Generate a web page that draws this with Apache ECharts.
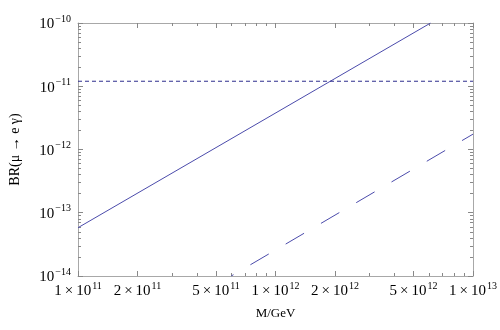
<!DOCTYPE html>
<html><head><meta charset="utf-8">
<script src="https://cdn.jsdelivr.net/npm/echarts@6/dist/echarts.min.js"></script>
<style>html,body{margin:0;padding:0;background:#fff}#c{width:500px;height:330px}</style>
</head><body><div id="c"></div>
<script>
// Data (log-log straight lines)
var solidX = [1e11, 6.1e12];
var solidY = [5.8e-14, 1e-10];
var boundX = [1e11, 1e13];
var boundY = [1.2e-11, 1.2e-11];
var longDashX = [5.97e11, 1e13];
var longDashY = [1e-14, 1.75e-12];
// Tick values
var xMajor = [1e11, 2e11, 5e11, 1e12, 2e12, 5e12, 1e13];
var xMinor = [3e11, 4e11, 6e11, 7e11, 8e11, 9e11, 3e12, 4e12, 6e12, 7e12, 8e12, 9e12];
var yMajor = [1e-14, 1e-13, 1e-12, 1e-11, 1e-10];
var yMinor = [2e-14,3e-14,4e-14,5e-14,6e-14,7e-14,8e-14,9e-14,
              2e-13,3e-13,4e-13,5e-13,6e-13,7e-13,8e-13,9e-13,
              2e-12,3e-12,4e-12,5e-12,6e-12,7e-12,8e-12,9e-12,
              2e-11,3e-11,4e-11,5e-11,6e-11,7e-11,8e-11,9e-11];

function pairs(xs, ys){ return xs.map(function(x,i){ return [x, ys[i]]; }); }
function expOf(v){ return Math.round(Math.log10(v)); }
function xFmt(v){
  var e = Math.floor(Math.log10(v) + 1e-9);
  var m = Math.round(v / Math.pow(10, e));
  return '{b|' + m + '\u2009×\u200910}{s|' + e + '}';
}
function yFmt(v){
  var e = expOf(v);
  return '{b|10}{s|' + (e < 0 ? '\u2212' + (-e) : e) + '}';
}
var serif = 'Liberation Serif';
var rich = {
  b: {fontFamily: serif, fontSize: 15, color: '#000', lineHeight: 18, verticalAlign: 'bottom'},
  s: {fontFamily: serif, fontSize: 10, color: '#000', lineHeight: 18, verticalAlign: 'top', padding:[0,0,0,1]}
};
var frame = '#a8a8a8';
var tickCol = '#888';
function xAx(pos, tickVals, len, labels, line, name){
  return {
    type: 'log', logBase: 10, min: 1e11, max: 1e13, position: pos,
    name: name || '', nameLocation: 'middle', nameGap: 31,
    nameTextStyle: {fontFamily: serif, fontSize: 13, color: '#000'},
    splitLine: {show: false}, minorTick: {show: false},
    axisLine: {show: line, lineStyle: {color: frame, width: 1}},
    axisTick: {show: true, inside: true, length: len, customValues: tickVals, lineStyle: {color: tickCol}},
    axisLabel: labels ? {show: true, customValues: tickVals, formatter: xFmt, rich: rich, margin: 5, hideOverlap: false, showMinLabel: true, showMaxLabel: true} : {show: false}
  };
}
function yAx(pos, tickVals, len, labels, line, name){
  return {
    type: 'log', logBase: 10, min: 1e-14, max: 1e-10, position: pos,
    name: name || '', nameLocation: 'middle', nameGap: 56,
    nameTextStyle: {fontFamily: serif, fontSize: 14, color: '#000'},
    splitLine: {show: false}, minorTick: {show: false},
    axisLine: {show: line, lineStyle: {color: frame, width: 1}},
    axisTick: {show: true, inside: true, length: len, customValues: tickVals, lineStyle: {color: tickCol}},
    axisLabel: labels ? {show: true, customValues: tickVals, formatter: yFmt, rich: rich, margin: 7, hideOverlap: false, showMinLabel: true, showMaxLabel: true} : {show: false}
  };
}
var chart = echarts.init(document.getElementById('c'), null, {renderer: 'canvas'});
var lineColor = '#4b4bab';
chart.setOption({
  animation: false,
  grid: {left: 66, right: 24, top: 23, bottom: 54, containLabel: false},
  xAxis: [
    xAx('bottom', xMajor, 5, true, true, 'M/GeV'),
    xAx('bottom', xMinor, 3, false, false),
    xAx('top', xMajor, 5, false, true),
    xAx('top', xMinor, 3, false, false)
  ],
  yAxis: [
    yAx('left', yMajor, 5, true, true, 'BR(\u03BC \u2192 e \u03B3)'),
    yAx('left', yMinor, 3, false, false),
    yAx('right', yMajor, 5, false, true),
    yAx('right', yMinor, 3, false, false)
  ],
  series: [
    {type: 'line', data: pairs(solidX, solidY), symbol: 'none', clip: true,
     lineStyle: {color: lineColor, width: 1}},
    {type: 'line', data: pairs(boundX, boundY), symbol: 'none', clip: true,
     lineStyle: {color: '#2e2e8e', width: 1, type: [4, 3]}},
    {type: 'line', data: pairs(longDashX, longDashY), symbol: 'none', clip: true,
     lineStyle: {color: lineColor, width: 1, type: [21.3, 19.6], dashOffset: 18.7}}
  ]
});
</script>
</body></html>
